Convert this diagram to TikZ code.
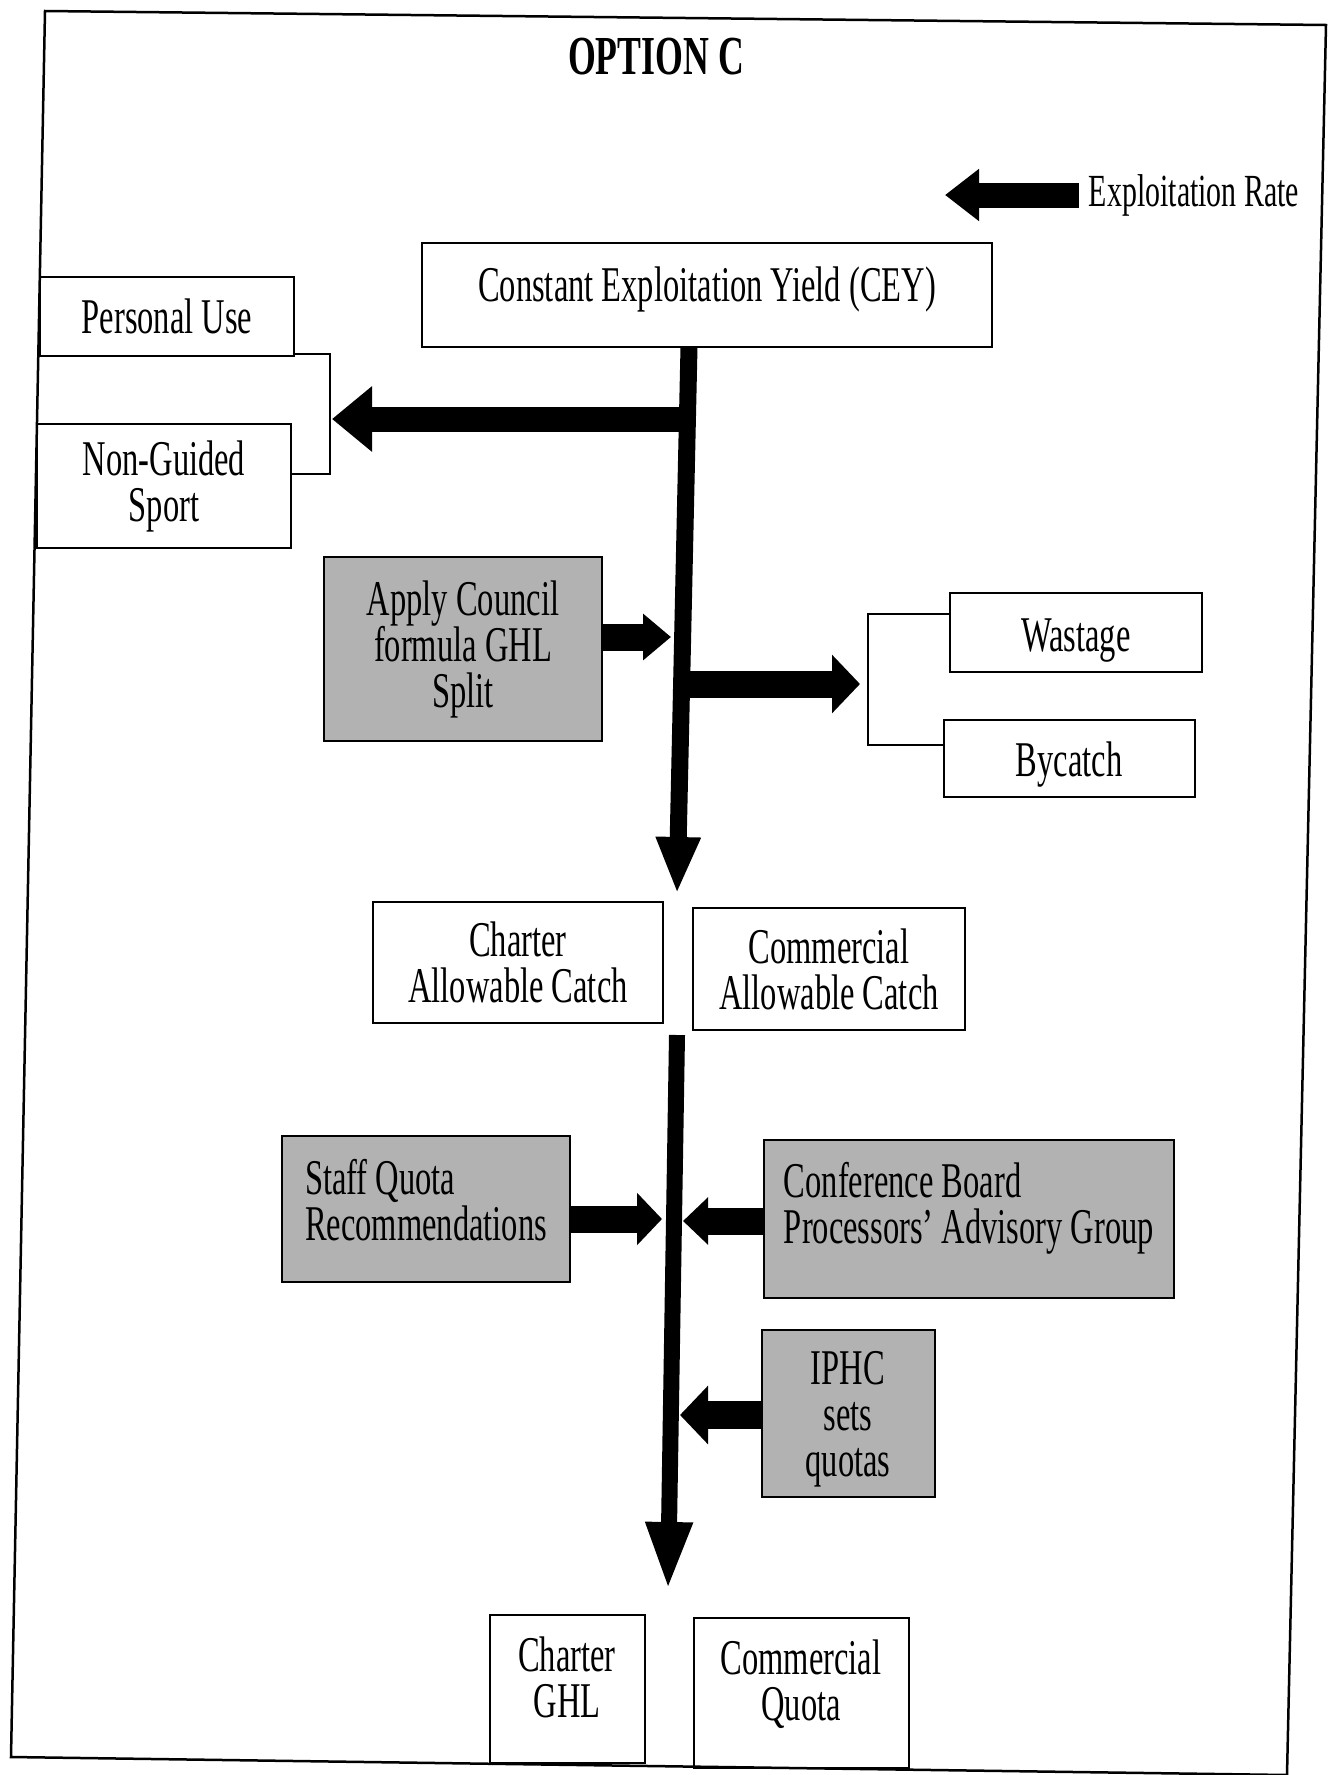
\documentclass[tikz,border=0pt]{standalone}
\usepackage{fontspec}
\setmainfont{Liberation Serif}[FakeStretch=0.65]
\usetikzlibrary{arrows.meta}

\newcommand{\lowpad}[1]{\rule[-#1]{0pt}{#1}}
\newcommand{\toppad}[1]{\rule{0pt}{#1}}

\tikzset{
  box/.style={draw, line width=2pt, rectangle, inner sep=4pt, align=center, font=\fontsize{50}{46}\selectfont},
  greybox/.style={box, fill=black!30},
  fat/.style={draw, line width=27pt, -{Triangle[width=52pt,length=28pt]}},
}

\begin{document}
\begin{tikzpicture}[x=1pt,y=-1pt]
\useasboundingbox (0,0) rectangle (1332,1775);
\draw[line width=2.5pt] (45,11) -- (1326,25) -- (1287,1775) -- (11,1757) -- cycle;

\node[font=\bfseries\fontsize{55}{55}\selectfont] (title) at (656,57) {OPTION C};
\node[font=\fontsize{46}{46}\selectfont, inner sep=10pt] (rate) at (1194,195) {Exploitation Rate};
\node[box, minimum width=570pt, minimum height=104pt] (cey) at (707,295) {Constant Exploitation Yield (CEY)\lowpad{22pt}};
\node[box, minimum width=254pt, minimum height=79pt] (pu) at (167,316) {Personal Use};
\node[box, minimum width=254pt, minimum height=124pt] (ngs) at (164,486) {Non-Guided\\Sport};
\node[greybox, minimum width=278pt, minimum height=184pt] (gsplit) at (463,649) {Apply Council\\formula GHL\\Split};
\node[box, minimum width=252pt, minimum height=79pt] (wast) at (1076,632) {\toppad{50pt}Wastage};
\node[box, minimum width=251pt, minimum height=77pt] (byc) at (1069,758) {\toppad{48pt}Bycatch};
\node[box, minimum width=290pt, minimum height=121pt] (cac) at (518,962) {Charter\\Allowable Catch};
\node[box, minimum width=272pt, minimum height=122pt] (comac) at (829,969) {Commercial\\Allowable Catch};
\node[greybox, align=left, minimum width=288pt, minimum height=146pt] (sqr) at (426,1209) {Staff Quota\\Recommendations\lowpad{18pt}};
\node[greybox, align=left, minimum width=410pt, minimum height=158pt] (cbpag) at (969,1219) {Conference Board\\Processors’ Advisory Group\lowpad{33pt}};
\node[greybox, minimum width=173pt, minimum height=167pt] (iphc) at (848,1413) {\toppad{45pt}IPHC\\sets\\quotas};
\node[box, minimum width=155pt, minimum height=148pt] (cghl) at (567,1689) {Charter\\GHL\lowpad{24pt}};
\node[box, minimum width=215pt, minimum height=150pt] (cq) at (801,1693) {Commercial\\Quota\lowpad{26pt}};

% points on the two trunks
\coordinate (ttop) at (689,347);
\coordinate (tend) at (677,894);
\coordinate (tl) at (687,419);
\coordinate (pus) at (332,419);
\coordinate (tap) at (671,637);
\coordinate (trt) at (690,684);
\coordinate (wbt) at (860,684);
\coordinate (btop) at (677,1035);
\coordinate (bend) at (668,1590);
\coordinate (sqt) at (662,1219);
\coordinate (cft) at (683,1221);
\coordinate (ipt) at (680,1415);
\coordinate (ratetip) at (945,195);

% brackets
\coordinate (lbt) at (330,354);
\coordinate (lbb) at (330,474);
\coordinate (rbt) at (868,614);
\coordinate (rbb) at (868,745);
\path[draw,line width=2pt] (pu.east |- lbt) -- (lbt) -- (lbb) -- (ngs.east |- lbb);
\path[draw,line width=2pt] (wast.west |- rbt) -- (rbt) -- (rbb) -- (byc.west |- rbb);

\path[fat,line width=17pt,-{Triangle[width=41pt,length=57pt]}] (ttop) -- (tend);
\path[fat,line width=16pt,-{Triangle[width=43pt,length=68pt]}] (btop) -- (bend);
\path[fat,line width=25pt,-{Triangle[width=50pt,length=34pt]}] (rate.west) -- (ratetip);
\path[fat,line width=25pt,-{Triangle[width=63pt,length=40pt]}] (tl) -- (pus);
\path[fat,-{Triangle[width=45pt,length=28pt]}] (gsplit.east |- tap) -- (tap);
\path[fat,-{Triangle[width=57pt,length=28pt]}] (trt) -- (wbt);
\path[fat,-{Triangle[width=51pt,length=25pt]}] (sqr.east |- sqt) -- (sqt);
\path[fat,-{Triangle[width=46pt,length=25pt]}] (cbpag.west |- cft) -- (cft);
\path[fat,line width=28pt,-{Triangle[width=57pt,length=28pt]}] (iphc.west |- ipt) -- (ipt);

\end{tikzpicture}
\end{document}
